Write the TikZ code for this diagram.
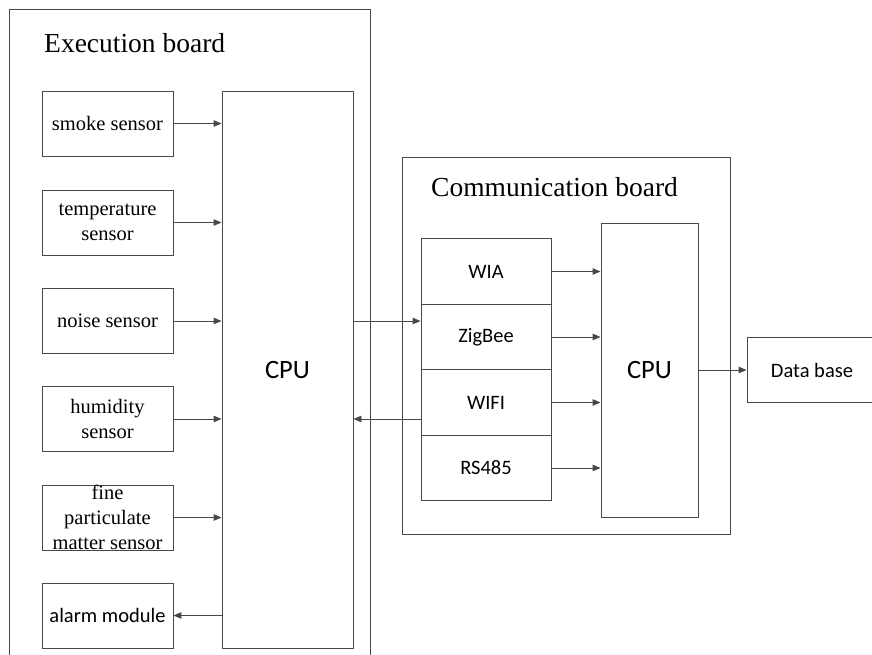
\documentclass[tikz,border=0pt]{standalone}
\usepackage{fontspec}
\setmainfont{Liberation Serif}
\newfontfamily\calib{Carlito}
\usetikzlibrary{arrows.meta}
\definecolor{linegray}{RGB}{72,72,72}
\tikzset{
  blk/.style={draw=linegray, line width=0.9pt, rectangle, inner sep=0pt, align=center},
  serifbox/.style={blk, minimum width=131pt, minimum height=65pt,
    font=\fontsize{20.5}{25}\selectfont},
  sansbox/.style={blk, minimum width=130pt, minimum height=65.5pt,
    font=\calib\fontsize{20.5}{25}\selectfont},
  cpubox/.style={blk, font=\calib\fontsize{26.5}{30}\selectfont},
  board/.style={blk},
  boardtitle/.style={anchor=base west, inner sep=0pt, font=\fontsize{27.5}{30}\selectfont},
  link/.style={draw=linegray, line width=0.9pt, -{Triangle[length=8pt,width=6.5pt]}}
}
\begin{document}
\begin{tikzpicture}[x=1pt, y=-1pt]
  \useasboundingbox (0,0) rectangle (872,654);
  \clip (0,0) rectangle (872,654);

  % Execution board with its sensors and CPU
  \node[board, minimum width=361pt, minimum height=691pt] (exec) at (189.5,354.5) {};
  \node[boardtitle] (exectitle) at (44,52) {Execution board};

  \node[serifbox] (smoke) at (107.5,123.5) {smoke sensor};
  \node[serifbox] (temp)  at (107.5,222.5) {temperature\\sensor};
  \node[serifbox] (noise) at (107.5,321)   {noise sensor};
  \node[serifbox] (humid) at (107.5,419)   {humidity\\sensor};
  \node[serifbox] (fine)  at (107.5,517.5) {fine\\particulate\\matter sensor};
  \node[serifbox, font=\calib\fontsize{20.5}{25}\selectfont] (alarm) at (107.5,615.5) {alarm module};

  \node[cpubox, minimum width=131pt, minimum height=557pt] (ecpu) at (287.5,369.5) {CPU};

  \foreach \s in {smoke,temp,noise,humid,fine}
    \draw[link] (\s.east) -- (ecpu.west |- \s.east);
  \draw[link] (ecpu.west |- alarm.east) -- (alarm.east);

  % Communication board with its radio modules and CPU
  \node[board, minimum width=328pt, minimum height=377pt] (comm) at (566,345.5) {};
  \node[boardtitle] (commtitle) at (431,196) {Communication board};

  \node[sansbox] (wia)    at (486,271.5) {WIA};
  \node[sansbox] (zigbee) at (486,337)   {ZigBee};
  \node[sansbox] (wifi)   at (486,402.5) {WIFI};
  \node[sansbox] (rs)     at (486,468)   {RS485};

  \node[cpubox, minimum width=97pt, minimum height=294pt] (ccpu) at (649.5,370) {CPU};

  \foreach \m in {wia,zigbee,wifi,rs}
    \draw[link] (\m.east) -- (ccpu.west |- \m.east);

  % Links between the two boards
  \draw[link] (ecpu.east |- noise.east) -- (zigbee.west |- noise.east);
  \draw[link] (wifi.west |- humid.east) -- (ecpu.east |- humid.east);

  % Database
  \node[sansbox] (db) at (812,370) {Data base};
  \draw[link] (ccpu.east) -- (db.west);
\end{tikzpicture}
\end{document}
